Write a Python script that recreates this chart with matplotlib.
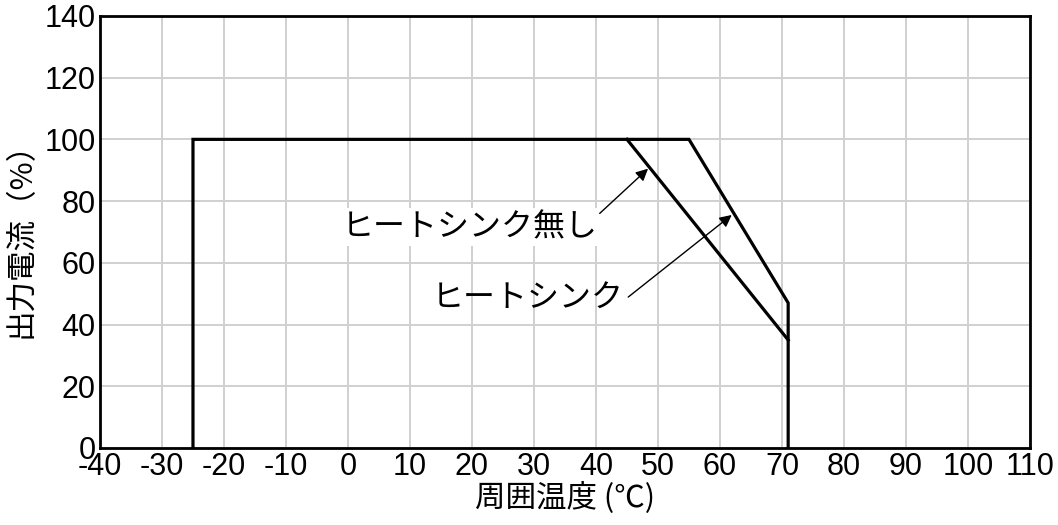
import matplotlib
matplotlib.use("Agg")
import matplotlib.pyplot as plt

plt.rcParams['font.family'] = ['Liberation Sans', 'Noto Sans CJK JP']
plt.rcParams['axes.unicode_minus'] = False

# with heat sink
hs_temp = [-25, -25, 55, 71, 71]
hs_load = [0, 100, 100, 47, 0]
# without heat sink
nohs_temp = [45, 71]
nohs_load = [100, 35]

x_ticks = list(range(-40, 111, 10))
y_ticks = list(range(0, 141, 20))

fig = plt.figure(figsize=(10.58, 5.25), dpi=100)
ax = fig.add_axes([0.0945, 0.1467, 0.879, 0.823])

ax.plot(hs_temp, hs_load, color='black', lw=2.3, solid_joinstyle='miter', zorder=3)
ax.plot(nohs_temp, nohs_load, color='black', lw=2.3, zorder=3)

ax.set_xlim(-40, 110)
ax.set_ylim(0, 140)
ax.set_xticks(x_ticks)
ax.set_yticks(y_ticks)
ax.tick_params(length=0, labelsize=22, pad=3)
ax.grid(True, color='#d0d0d0', lw=1.4)
ax.set_axisbelow(True)
for s in ax.spines.values():
    s.set_linewidth(2)

jp = ['Noto Sans CJK JP', 'Liberation Sans']
ax.set_xlabel('周囲温度 (℃)', fontsize=22, family=jp, labelpad=0)
ax.set_ylabel('出力電流（%）', fontsize=22, family=jp, labelpad=6)

ax.text(40.3, 71.6, 'ヒートシンク無し', fontsize=23, family=jp,
        ha='right', va='center',
        bbox=dict(boxstyle='square,pad=0.1', fc='white', ec='none'))
ax.annotate('', xy=(48.4, 90.5), xytext=(40.6, 76),
            arrowprops=dict(arrowstyle='-|>', color='black', lw=1,
                            mutation_scale=18, shrinkA=0, shrinkB=0))
ax.text(44.5, 48.5, 'ヒートシンク', fontsize=23, family=jp,
        ha='right', va='center')
ax.annotate('', xy=(61.9, 75.5), xytext=(45.2, 48.9),
            arrowprops=dict(arrowstyle='-|>', color='black', lw=1,
                            mutation_scale=18, shrinkA=0, shrinkB=0))

fig.savefig('out.png', dpi=100)
